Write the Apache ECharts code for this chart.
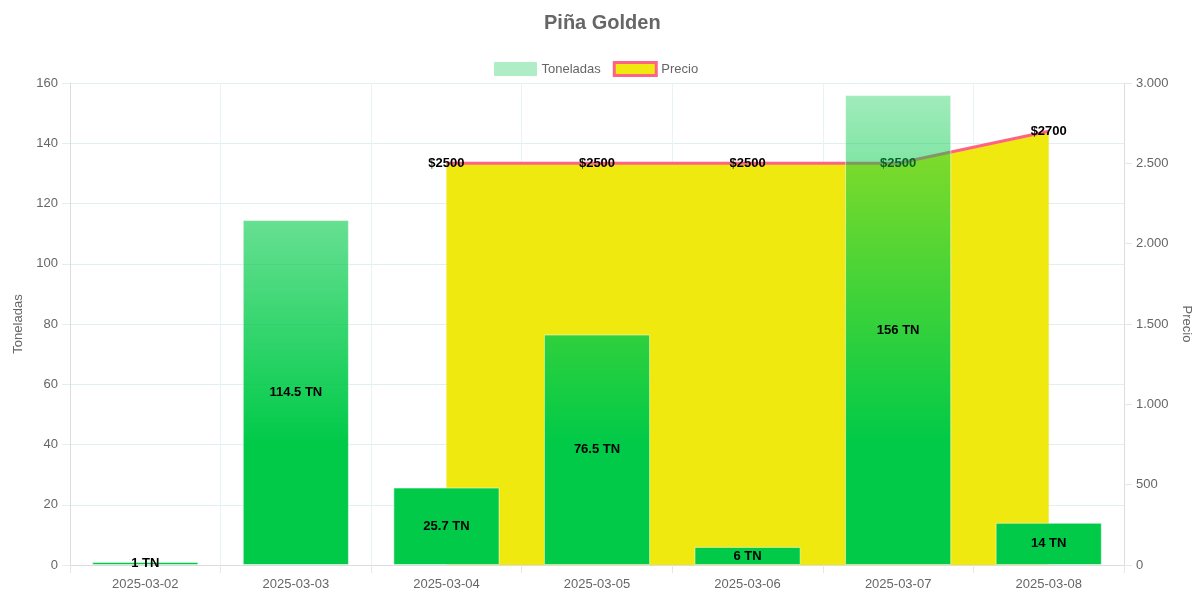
<!DOCTYPE html>
<html>
<head>
<meta charset="utf-8">
<title>Piña Golden</title>
<script src="https://cdn.jsdelivr.net/npm/echarts@6/dist/echarts.min.js"></script>
<style>
  html, body { margin: 0; padding: 0; background: #fff; overflow: hidden; }
  #chart { width: 1197px; height: 593px; }
</style>
</head>
<body>
<div id="chart"></div>
<script>
var fechas = ['2025-03-02', '2025-03-03', '2025-03-04', '2025-03-05', '2025-03-06', '2025-03-07', '2025-03-08'];
var toneladas = [1, 114.5, 25.7, 76.5, 6, 156, 14];
var precios = [null, null, 2500, 2500, 2500, 2500, 2700];

var fuente = 'Liberation Sans, Arial, sans-serif';
var verde = 'rgba(0,202,72,';

// formato es: separador de miles con punto
var miles = function(v){
    return String(v).replace(/\B(?=(\d{3})+(?!\d))/g, '.');
};

var chart = echarts.init(document.getElementById('chart'));

var option = {
    animation: false,
    textStyle: { fontFamily: fuente },
    title: {
        text: 'Piña Golden',
        left: 539,
        top: 8,
        textStyle: { fontSize: 20, fontWeight: 'bold', color: '#666', fontFamily: fuente }
    },
    legend: {
        top: 56,
        left: 489,
        itemWidth: 42,
        itemHeight: 13,
        itemGap: 12,
        textStyle: { color: '#666', fontSize: 13, fontFamily: fuente },
        data: [
            { name: 'Toneladas', icon: 'rect', itemStyle: { color: '#aeedc6', borderColor: '#aeedc6', borderWidth: 1 } },
            { name: 'Precio', icon: 'rect', itemStyle: { color: '#f0e90f', borderColor: '#ff6384', borderWidth: 3 } }
        ]
    },
    grid: { left: 70, right: 73, top: 83, bottom: 28, containLabel: false, outerBoundsMode: 'none' },
    xAxis: {
        type: 'category',
        data: fechas,
        boundaryGap: true,
        axisLine: { lineStyle: { color: '#dcdcdc' } },
        axisTick: { show: true, length: 8, lineStyle: { color: '#e6e6e6' } },
        axisLabel: { color: '#666', fontSize: 13, margin: 13 },
        splitLine: { show: true, lineStyle: { color: '#e8f3f3' } }
    },
    yAxis: [
        {
            type: 'value',
            min: 0,
            max: 160,
            interval: 20,
            name: 'Toneladas',
            nameLocation: 'middle',
            nameGap: 45,
            nameTextStyle: { color: '#666', fontSize: 13 },
            axisLine: { show: true, lineStyle: { color: '#dcdcdc' } },
            axisTick: { show: true, length: 8, lineStyle: { color: '#e0f0f0' } },
            axisLabel: { color: '#666', fontSize: 13, margin: 12 },
            splitLine: { show: true, lineStyle: { color: '#e0f0f0' } }
        },
        {
            type: 'value',
            min: 0,
            max: 3000,
            interval: 500,
            position: 'right',
            name: 'Precio',
            nameLocation: 'middle',
            nameRotate: -90,
            nameGap: 56,
            nameTextStyle: { color: '#666', fontSize: 13 },
            axisLine: { show: true, lineStyle: { color: '#dcdcdc' } },
            axisTick: { show: true, length: 8, lineStyle: { color: '#e6e6e6' } },
            axisLabel: { color: '#666', fontSize: 13, margin: 12, formatter: miles },
            splitLine: { show: false }
        }
    ],
    series: [
        {
            name: 'Precio',
            type: 'line',
            yAxisIndex: 1,
            data: precios,
            smooth: false,
            z: 2,
            symbol: 'circle',
            symbolSize: 0.1,
            lineStyle: { color: '#ff6384', width: 3 },
            itemStyle: { color: '#ff6384' },
            areaStyle: { color: '#f0e90f', opacity: 1, origin: 'start' },
            label: {
                show: true,
                position: 'inside',
                color: '#000',
                fontWeight: 'bold',
                fontSize: 13,
                formatter: function(p){ return '$' + p.value; }
            }
        },
        {
            name: 'Toneladas',
            type: 'bar',
            data: toneladas,
            barWidth: '70.5%',
            z: 3,
            itemStyle: {
                color: new echarts.graphic.LinearGradient(0, 83, 0, 565, [
                    { offset: 0, color: verde + '0.35)' },
                    { offset: 0.75, color: verde + '1)' },
                    { offset: 1, color: verde + '1)' }
                ], true),
                borderColor: 'rgba(255,255,255,0.5)',
                borderWidth: 1
            },
            label: {
                show: true,
                position: 'inside',
                color: '#000',
                fontWeight: 'bold',
                fontSize: 13,
                formatter: function(p){ return p.value + ' TN'; }
            }
        }
    ]
};

chart.setOption(option);
</script>
</body>
</html>
